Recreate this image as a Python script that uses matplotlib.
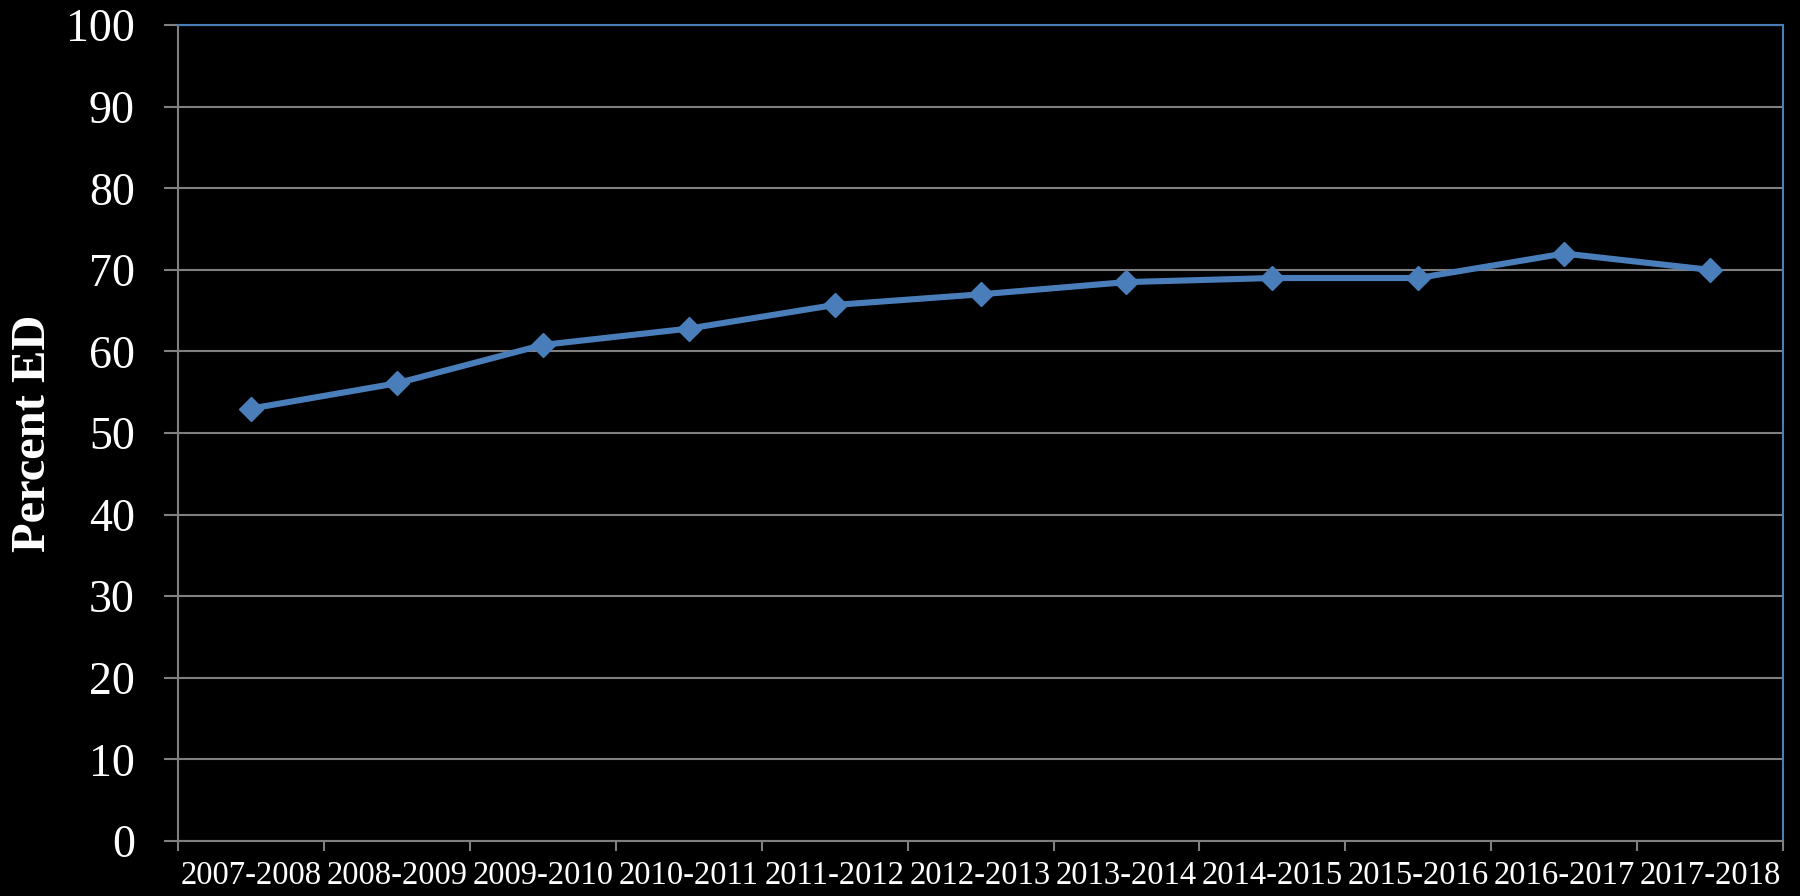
import matplotlib
matplotlib.use("Agg")
import matplotlib.pyplot as plt
import numpy as np

categories = ["2007-2008", "2008-2009", "2009-2010", "2010-2011", "2011-2012",
              "2012-2013", "2013-2014", "2014-2015", "2015-2016", "2016-2017", "2017-2018"]
percent_ed = [53.0, 56.1, 60.8, 62.8, 65.7, 67.0, 68.5, 69.0, 69.0, 72.0, 70.0]
y_ticks = [0, 10, 20, 30, 40, 50, 60, 70, 80, 90, 100]

plt.rcParams['font.family'] = ['Liberation Serif', 'DejaVu Serif']

fig = plt.figure(figsize=(18, 8.96), dpi=100, facecolor='black')
ax = fig.add_axes([0.0989, 0.0614, 0.8917, 0.9106])
ax.set_facecolor('black')

x = np.arange(len(categories)) + 0.5
ax.plot(x, percent_ed, color='#4a7ebb', linewidth=4.4, marker='D', markersize=12,
        markerfacecolor='#4a7ebb', markeredgecolor='#4a7ebb', zorder=3)

ax.set_xlim(0, len(categories))
ax.set_ylim(0, 100)
ax.set_yticks(y_ticks)
ax.set_yticklabels([str(v) for v in y_ticks], fontsize=33, color='white')
ax.yaxis.grid(True, color='#808080', linewidth=1.5)
ax.set_axisbelow(True)

ax.set_xticks(np.arange(len(categories) + 1))
ax.set_xticklabels([])
ax.set_xticks(x, minor=True)
ax.set_xticklabels(categories, minor=True, fontsize=23.5, color='white')
ax.tick_params(axis='x', which='major', length=7, width=1.5, color='#808080', direction='out')
ax.tick_params(axis='x', which='minor', length=0, pad=14)
ax.tick_params(axis='y', length=10, width=1.5, color='#808080', direction='out', pad=21)

for side in ['left', 'bottom']:
    ax.spines[side].set_color('#808080')
    ax.spines[side].set_linewidth(1.5)
for side in ['top', 'right']:
    ax.spines[side].set_color('#4a7ebb')
    ax.spines[side].set_linewidth(1.5)

ax.set_ylabel('Percent ED', fontsize=35, fontweight='bold', color='white', labelpad=8)

fig.savefig('out.png', dpi=100, facecolor='black')
